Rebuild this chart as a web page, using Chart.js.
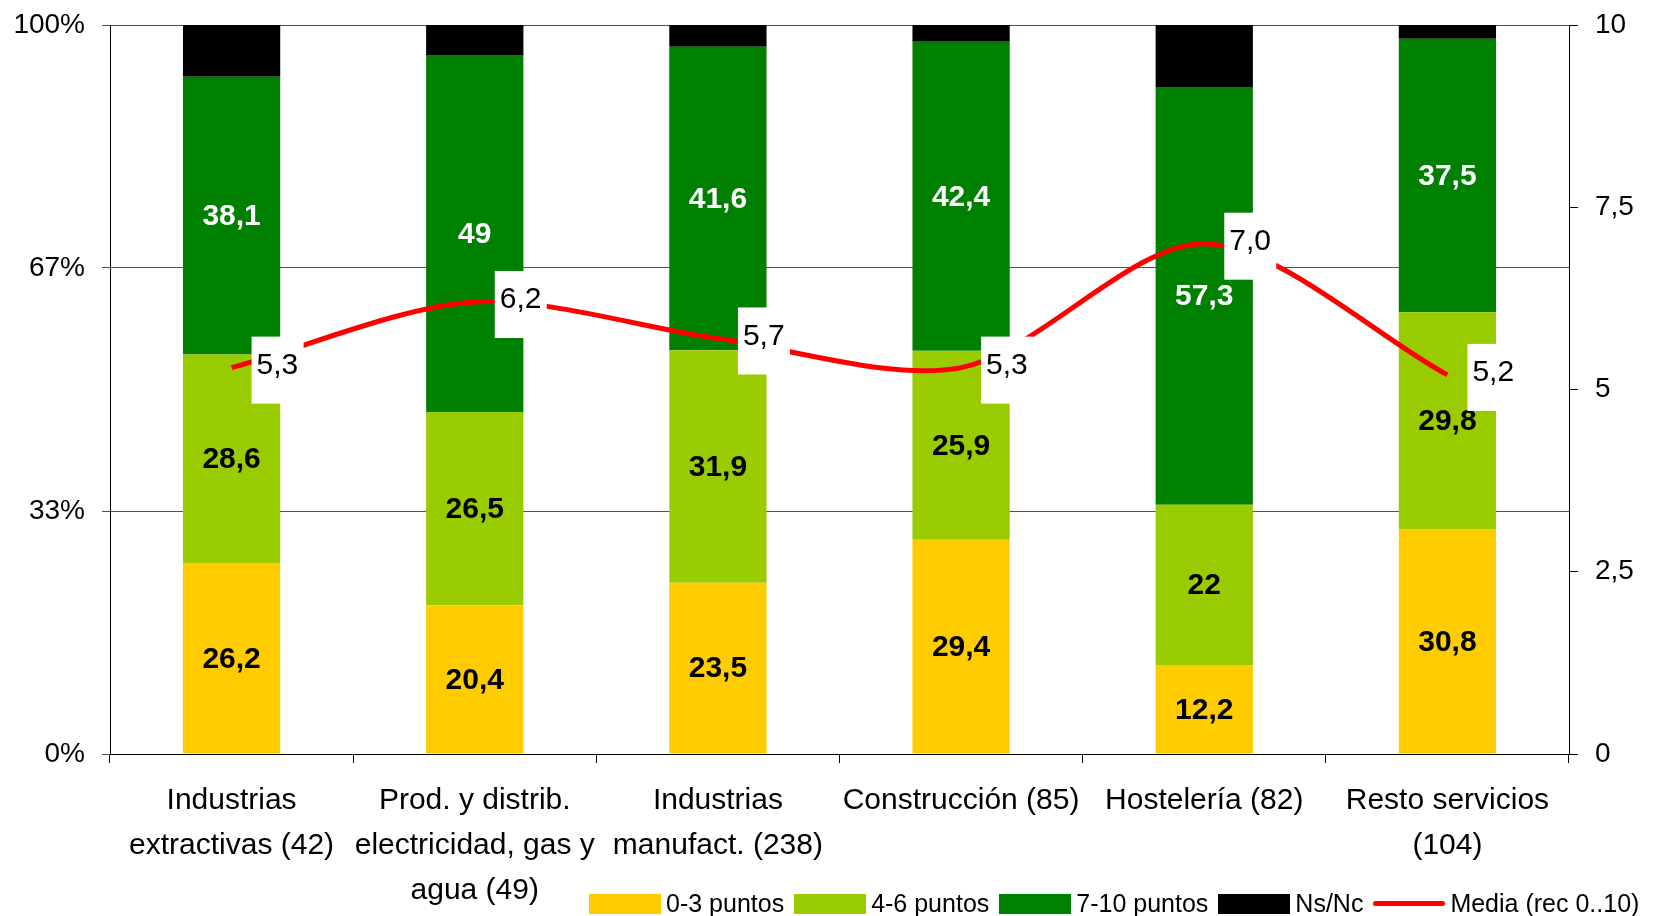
<!DOCTYPE html>
<html>
<head>
<meta charset="utf-8">
<script src="https://cdn.jsdelivr.net/npm/chart.js@4.4.1/dist/chart.umd.min.js"></script>
<style>
  html, body { margin: 0; padding: 0; background: #fff; }
  #wrap { position: relative; width: 1655px; height: 916px; }
  #legend { position: absolute; left: 589px; top: 889px; display: flex; align-items: center;
            font-family: "Liberation Sans", Arial, sans-serif; font-size: 25px; color: #000; white-space: nowrap; }
  #legend .sw { width: 72px; height: 20px; margin-right: 5px; }
  #legend .ln { width: 72px; height: 5px; margin-right: 5px; border-radius: 3px; }
  #legend .txt { margin-right: 10px; }
</style>
</head>
<body>
<div id="wrap">
  <canvas id="chart" width="1655" height="916"></canvas>
  <div id="legend"></div>
</div>
<script>
const categories = [
    ['Industrias', 'extractivas (42)'],
    ['Prod. y distrib.', 'electricidad, gas y', 'agua (49)'],
    ['Industrias', 'manufact. (238)'],
    ['Construcción (85)'],
    ['Hostelería (82)'],
    ['Resto servicios', '(104)']
];
const puntos03 = [26.2, 20.4, 23.5, 29.4, 12.2, 30.8];
const puntos46 = [28.6, 26.5, 31.9, 25.9, 22, 29.8];
const puntos710 = [38.1, 49, 41.6, 42.4, 57.3, 37.5];
const nsnc = [7.1, 4.1, 3.0, 2.3, 8.5, 1.9];
const media = [5.3, 6.2, 5.7, 5.3, 7.0, 5.2];
const pctTicks = [0, 100 / 3, 200 / 3, 100];
const pctTickLabels = ['0%', '33%', '67%', '100%'];
const mediaTicks = [0, 2.5, 5, 7.5, 10];

const FONT = '"Liberation Sans", Arial, sans-serif';
const colors = { y: '#FFCC00', lg: '#99CC00', dg: '#008000', k: '#000000', red: '#FF0000' };

const fmt = v => String(v).replace('.', ',');

// value labels inside bars + boxed labels on the line
const labelPlugin = {
    id: 'labels',
    afterDatasetsDraw(chart) {
        const ctx = chart.ctx;
        ctx.save();
        ctx.textBaseline = 'middle';
        chart.data.datasets.forEach((ds, di) => {
            const meta = chart.getDatasetMeta(di);
            if (ds.type === 'line') {
                ctx.font = '30px ' + FONT;
                ctx.textAlign = 'left';
                meta.data.forEach((pt, i) => {
                    ctx.fillStyle = '#fff';
                    ctx.fillRect(pt.x + 20, pt.y - 31, 52, 67);
                    ctx.fillStyle = '#000';
                    ctx.fillText(ds.data[i].toFixed(1).replace('.', ','), pt.x + 25, pt.y - 2);
                });
            } else if (ds.labelColor) {
                ctx.font = 'bold 30px ' + FONT;
                ctx.textAlign = 'center';
                ctx.fillStyle = ds.labelColor;
                meta.data.forEach((bar, i) => {
                    ctx.fillText(fmt(ds.data[i]), bar.x, (bar.y + bar.base) / 2 + 1);
                });
            }
        });
        ctx.restore();
    }
};

const barOpts = { type: 'bar', yAxisID: 'y', stack: 's', order: 1, barPercentage: 0.4, categoryPercentage: 1.0, borderWidth: 0 };

const chart = new Chart(document.getElementById('chart').getContext('2d'), {
    data: {
        labels: categories,
        datasets: [
            { ...barOpts, label: '0-3 puntos', data: puntos03, backgroundColor: colors.y, labelColor: '#000' },
            { ...barOpts, label: '4-6 puntos', data: puntos46, backgroundColor: colors.lg, labelColor: '#000' },
            { ...barOpts, label: '7-10 puntos', data: puntos710, backgroundColor: colors.dg, labelColor: '#fff' },
            { ...barOpts, label: 'Ns/Nc', data: nsnc, backgroundColor: colors.k },
            { type: 'line', label: 'Media (rec 0..10)', data: media, yAxisID: 'y2', order: 0,
              borderColor: colors.red, borderWidth: 5, pointRadius: 0, tension: 0.3, fill: false }
        ]
    },
    options: {
        responsive: false,
        animation: false,
        layout: { padding: { top: 25, left: 0, right: 0, bottom: 0 } },
        plugins: { legend: { display: false }, tooltip: { enabled: false } },
        scales: {
            x: {
                stacked: true,
                offset: true,
                grid: { display: true, drawOnChartArea: false, offset: true, tickLength: 9, color: '#000' },
                border: { display: true, color: '#000', width: 1 },
                ticks: { color: '#000', font: { family: FONT, size: 30, lineHeight: 1.5 }, padding: 15, maxRotation: 0, autoSkip: false },
                afterFit: s => { s.height = 162; }
            },
            y: {
                position: 'left',
                stacked: true,
                min: 0, max: 100,
                afterBuildTicks: s => { s.ticks = pctTicks.map(v => ({ value: v })); },
                grid: { color: '#505050', lineWidth: 1, tickLength: 8 },
                border: { display: true, color: '#000', width: 1 },
                ticks: { color: '#000', font: { family: FONT, size: 28 }, padding: 17,
                         callback: (v, i) => pctTickLabels[i] },
                afterFit: s => { s.width = 110; s.paddingTop = 0; s.paddingBottom = 0; }
            },
            y2: {
                position: 'right',
                min: 0, max: 10,
                afterBuildTicks: s => { s.ticks = mediaTicks.map(v => ({ value: v })); },
                grid: { drawOnChartArea: false, tickLength: 9, color: '#000' },
                border: { display: true, color: '#000', width: 1 },
                ticks: { color: '#000', font: { family: FONT, size: 28 }, padding: 17, callback: v => fmt(v) },
                afterFit: s => { s.width = 86; s.paddingTop = 0; s.paddingBottom = 0; }
            }
        }
    },
    plugins: [labelPlugin]
});

// legend built from the chart's datasets
const legend = document.getElementById('legend');
legend.innerHTML = chart.data.datasets.map(ds => {
    const mark = ds.type === 'line'
        ? `<div class="ln" style="background:${ds.borderColor}"></div>`
        : `<div class="sw" style="background:${ds.backgroundColor}"></div>`;
    return mark + `<span class="txt">${ds.label}</span>`;
}).join('');
</script>
</body>
</html>
